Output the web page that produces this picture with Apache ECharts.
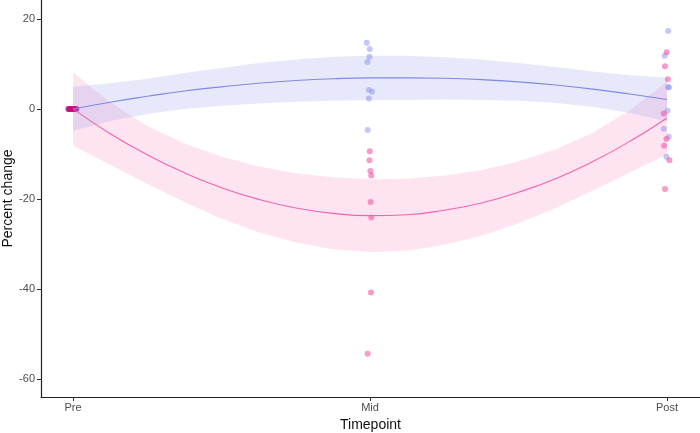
<!DOCTYPE html>
<html>
<head>
<meta charset="utf-8">
<script src="https://cdn.jsdelivr.net/npm/echarts@6/dist/echarts.min.js"></script>
<style>
  html, body { margin: 0; padding: 0; background: #fff; }
  #chart { width: 700px; height: 433px; }
</style>
</head>
<body>
<div id="chart"></div>
<script>
  // x positions: 1 = Pre, 2 = Mid, 3 = Post
  var timepoints = ['Pre', 'Mid', 'Post'];
  var yTicks = [-60, -40, -20, 0, 20];

  // smooth fit
  var fitX = [1, 1.125, 1.25, 1.375, 1.5, 1.625, 1.75, 1.875, 2, 2.125, 2.25, 2.375, 2.5, 2.625, 2.75, 2.875, 3];
  var blueFit = [0, 1.5, 2.8, 4.0, 4.9, 5.7, 6.3, 6.7, 6.9, 6.9, 6.8, 6.5, 6.0, 5.3, 4.4, 3.3, 2.1];
  var blueUpper = [4.9, 5.7, 6.7, 8.0, 9.1, 10.2, 11.0, 11.6, 11.8, 11.8, 11.5, 11.0, 10.2, 9.3, 8.3, 7.5, 7.0];
  var blueLower = [-4.9, -2.7, -1.1, 0.0, 0.7, 1.2, 1.6, 1.8, 2.0, 2.0, 2.1, 2.0, 1.8, 1.3, 0.5, -0.9, -2.8];
  var pinkFit = [0, -5.5, -10.2, -14.2, -17.5, -20.1, -22.0, -23.2, -23.7, -23.5, -22.5, -20.9, -18.5, -15.5, -11.7, -7.2, -2.0];
  var pinkUpper = [8.1, 1.5, -3.8, -7.7, -10.6, -12.8, -14.3, -15.2, -15.6, -15.5, -14.8, -13.6, -11.6, -9.0, -5.3, -0.3, 6.1];
  var pinkLower = [-8.1, -12.4, -16.6, -20.7, -24.4, -27.4, -29.7, -31.2, -31.8, -31.5, -30.2, -28.2, -25.4, -22.0, -18.1, -14.1, -10.1];

  // jittered observations [x, percent change]
  var bluePoints = [
    [0.985, 0], [0.99, 0], [0.995, 0], [1.0, 0], [1.005, 0], [1.01, 0], [1.013, 0], [0.988, 0],
    [1.989, 14.7], [1.999, 13.3], [1.998, 11.6], [1.991, 10.4], [1.996, 4.2], [2.007, 3.8], [1.996, 2.3], [1.992, -4.7],
    [3.004, 17.3], [2.992, 11.8], [3.004, 4.8], [3.006, 4.8], [3.002, -0.4], [2.989, -4.4], [3.006, -6.2], [2.998, -10.6]
  ];
  var pinkPoints = [
    [0.986, 0], [0.99, 0], [0.994, 0], [0.998, 0], [1.002, 0], [1.006, 0], [1.01, 0], [0.984, 0],
    [1.999, -9.4], [1.998, -11.4], [2.001, -13.8], [2.004, -14.8], [2.002, -20.7], [2.004, -24.1], [2.003, -40.8], [1.992, -54.4],
    [2.999, 12.6], [2.993, 9.5], [3.003, 6.6], [2.989, -1.0], [2.998, -6.7], [2.990, -8.2], [3.008, -11.4], [2.993, -17.8]
  ];

  function pairs(xs, ys) {
    return xs.map(function (x, i) { return [x, ys[i]]; });
  }

  function band(upper, lower, color) {
    return {
      type: 'custom',
      data: [[1, 0]],
      silent: true,
      renderItem: function (params, api) {
        var pts = [];
        for (var i = 0; i < fitX.length; i++) pts.push(api.coord([fitX[i], upper[i]]));
        for (var j = fitX.length - 1; j >= 0; j--) pts.push(api.coord([fitX[j], lower[j]]));
        return { type: 'polygon', shape: { points: pts }, style: { fill: color } };
      }
    };
  }

  var axisText = { color: '#4d4d4d', fontSize: 11, fontFamily: 'Liberation Sans' };

  var option = {
    animation: false,
    backgroundColor: '#fff',
    grid: { left: 41, right: 0, top: 0, bottom: 36, containLabel: false, outerBoundsMode: 'none' },
    xAxis: {
      type: 'value',
      min: 0.892,
      max: 3.111,
      name: 'Timepoint',
      nameLocation: 'middle',
      nameGap: 21,
      nameMoveOverlap: false,
      nameTextStyle: { color: '#111', fontSize: 14, fontFamily: 'Liberation Sans' },
      axisLine: { show: true, onZero: false, lineStyle: { color: '#222', width: 1.2 } },
      axisTick: { show: true, length: 4, customValues: [1, 2, 3], lineStyle: { color: '#333' } },
      axisLabel: Object.assign({
        customValues: [1, 2, 3],
        margin: 5,
        formatter: function (v) { return timepoints[Math.round(v) - 1]; }
      }, axisText),
      splitLine: { show: false }
    },
    yAxis: {
      type: 'value',
      min: -64,
      max: 24.2,
      name: 'Percent change',
      nameLocation: 'middle',
      nameRotate: 90,
      nameGap: 26,
      nameMoveOverlap: false,
      nameTextStyle: { color: '#111', fontSize: 14, fontFamily: 'Liberation Sans' },
      axisLine: { show: true, onZero: false, lineStyle: { color: '#222', width: 1.2 } },
      axisTick: { show: true, length: 4, customValues: yTicks, lineStyle: { color: '#333' } },
      axisLabel: Object.assign({ customValues: yTicks, margin: 6 }, axisText),
      splitLine: { show: false }
    },
    series: [
      band(pinkUpper, pinkLower, 'rgba(250, 130, 185, 0.22)'),
      band(blueUpper, blueLower, 'rgba(135, 145, 235, 0.2)'),
      {
        type: 'line', data: pairs(fitX, pinkFit), smooth: true, showSymbol: false, silent: true,
        lineStyle: { color: '#f064ae', width: 1.1 }
      },
      {
        type: 'line', data: pairs(fitX, blueFit), smooth: true, showSymbol: false, silent: true,
        lineStyle: { color: '#8088e6', width: 1.1 }
      },
      {
        type: 'scatter', data: bluePoints, symbolSize: 6,
        itemStyle: { color: '#8791ee', opacity: 0.5 }
      },
      {
        type: 'scatter', data: pinkPoints, symbolSize: 6,
        itemStyle: {
          // the stacked Pre points read as a deep magenta blob
          color: function (p) { return p.value[0] < 1.5 ? '#d4007e' : '#f0489f'; },
          opacity: 0.55
        }
      }
    ]
  };

  echarts.init(document.getElementById('chart')).setOption(option);
</script>
</body>
</html>
